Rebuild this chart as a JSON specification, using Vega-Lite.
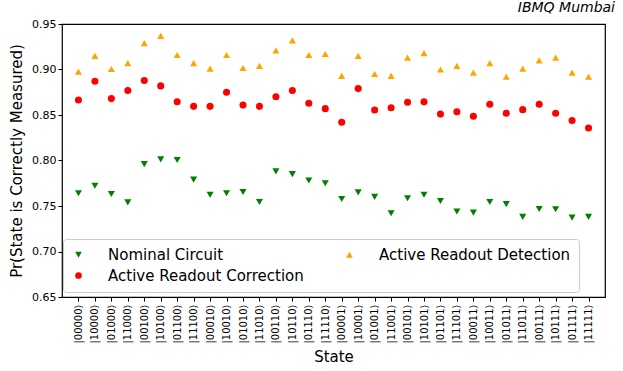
{
  "$schema": "https://vega.github.io/schema/vega-lite/v6.json",
  "autosize": {"type": "none"},
  "padding": {"left": 62, "top": 24, "right": 18, "bottom": 74},
  "width": 543,
  "height": 273,
  "background": "white",
  "config": {
    "font": "DejaVu Sans",
    "view": {"stroke": "black", "strokeWidth": 1.2},
    "axis": {"grid": false, "domain": false, "tickColor": "black", "labelColor": "black", "titleColor": "black", "labelFont": "DejaVu Sans", "titleFont": "DejaVu Sans", "titleFontWeight": "normal"}
  },
  "title": {"text": "IBMQ Mumbai", "anchor": "end", "fontStyle": "italic", "fontWeight": "normal", "fontSize": 14, "font": "DejaVu Sans", "offset": 3, "dx": 10, "color": "black"},
  "data": {
    "values": [
      {"state": "|00000⟩", "Nominal Circuit": 0.764, "Active Readout Correction": 0.8665, "Active Readout Detection": 0.8976},
      {"state": "|10000⟩", "Nominal Circuit": 0.7723, "Active Readout Correction": 0.887, "Active Readout Detection": 0.915},
      {"state": "|01000⟩", "Nominal Circuit": 0.7632, "Active Readout Correction": 0.868, "Active Readout Detection": 0.9005},
      {"state": "|11000⟩", "Nominal Circuit": 0.754, "Active Readout Correction": 0.877, "Active Readout Detection": 0.907},
      {"state": "|00100⟩", "Nominal Circuit": 0.796, "Active Readout Correction": 0.888, "Active Readout Detection": 0.929},
      {"state": "|10100⟩", "Nominal Circuit": 0.8013, "Active Readout Correction": 0.882, "Active Readout Detection": 0.937},
      {"state": "|01100⟩", "Nominal Circuit": 0.8005, "Active Readout Correction": 0.8646, "Active Readout Detection": 0.916},
      {"state": "|11100⟩", "Nominal Circuit": 0.779, "Active Readout Correction": 0.8595, "Active Readout Detection": 0.907},
      {"state": "|00010⟩", "Nominal Circuit": 0.7624, "Active Readout Correction": 0.8595, "Active Readout Detection": 0.901},
      {"state": "|10010⟩", "Nominal Circuit": 0.764, "Active Readout Correction": 0.875, "Active Readout Detection": 0.916},
      {"state": "|01010⟩", "Nominal Circuit": 0.7654, "Active Readout Correction": 0.861, "Active Readout Detection": 0.9016},
      {"state": "|11010⟩", "Nominal Circuit": 0.7544, "Active Readout Correction": 0.8595, "Active Readout Detection": 0.904},
      {"state": "|00110⟩", "Nominal Circuit": 0.788, "Active Readout Correction": 0.870, "Active Readout Detection": 0.921},
      {"state": "|10110⟩", "Nominal Circuit": 0.785, "Active Readout Correction": 0.877, "Active Readout Detection": 0.932},
      {"state": "|01110⟩", "Nominal Circuit": 0.778, "Active Readout Correction": 0.863, "Active Readout Detection": 0.916},
      {"state": "|11110⟩", "Nominal Circuit": 0.775, "Active Readout Correction": 0.857, "Active Readout Detection": 0.917},
      {"state": "|00001⟩", "Nominal Circuit": 0.7577, "Active Readout Correction": 0.842, "Active Readout Detection": 0.893},
      {"state": "|10001⟩", "Nominal Circuit": 0.765, "Active Readout Correction": 0.879, "Active Readout Detection": 0.915},
      {"state": "|01001⟩", "Nominal Circuit": 0.760, "Active Readout Correction": 0.8555, "Active Readout Detection": 0.895},
      {"state": "|11001⟩", "Nominal Circuit": 0.742, "Active Readout Correction": 0.858, "Active Readout Detection": 0.893},
      {"state": "|00101⟩", "Nominal Circuit": 0.7585, "Active Readout Correction": 0.864, "Active Readout Detection": 0.913},
      {"state": "|10101⟩", "Nominal Circuit": 0.7624, "Active Readout Correction": 0.8646, "Active Readout Detection": 0.918},
      {"state": "|01101⟩", "Nominal Circuit": 0.7555, "Active Readout Correction": 0.851, "Active Readout Detection": 0.900},
      {"state": "|11101⟩", "Nominal Circuit": 0.744, "Active Readout Correction": 0.8536, "Active Readout Detection": 0.904},
      {"state": "|00011⟩", "Nominal Circuit": 0.7427, "Active Readout Correction": 0.8486, "Active Readout Detection": 0.8965},
      {"state": "|10011⟩", "Nominal Circuit": 0.7544, "Active Readout Correction": 0.8618, "Active Readout Detection": 0.907},
      {"state": "|01011⟩", "Nominal Circuit": 0.752, "Active Readout Correction": 0.852, "Active Readout Detection": 0.892},
      {"state": "|11011⟩", "Nominal Circuit": 0.738, "Active Readout Correction": 0.8559, "Active Readout Detection": 0.901},
      {"state": "|00111⟩", "Nominal Circuit": 0.7467, "Active Readout Correction": 0.8618, "Active Readout Detection": 0.910},
      {"state": "|10111⟩", "Nominal Circuit": 0.7464, "Active Readout Correction": 0.852, "Active Readout Detection": 0.913},
      {"state": "|01111⟩", "Nominal Circuit": 0.7372, "Active Readout Correction": 0.844, "Active Readout Detection": 0.8965},
      {"state": "|11111⟩", "Nominal Circuit": 0.738, "Active Readout Correction": 0.8357, "Active Readout Detection": 0.892}
    ]
  },
  "transform": [
    {"fold": ["Nominal Circuit", "Active Readout Correction", "Active Readout Detection"], "as": ["series", "value"]}
  ],
  "mark": {"type": "point", "filled": true, "opacity": 1, "strokeWidth": 0},
  "encoding": {
    "x": {
      "field": "state", "type": "nominal", "sort": null,
      "scale": {"type": "point", "padding": 1.07},
      "axis": {"title": "State", "titleFontSize": 15, "titlePadding": 6, "labelAngle": -90, "labelFontSize": 10, "tickSize": 4, "labelPadding": 3}
    },
    "y": {
      "field": "value", "type": "quantitative",
      "scale": {"domain": [0.65, 0.95], "nice": false, "zero": false},
      "axis": {"title": "Pr(State is Correctly Measured)", "titleFontSize": 15, "titlePadding": 7, "values": [0.65, 0.70, 0.75, 0.80, 0.85, 0.90, 0.95], "format": ".2f", "labelFontSize": 11, "tickSize": 4}
    },
    "color": {
      "field": "series", "type": "nominal",
      "scale": {"domain": ["Nominal Circuit", "Active Readout Correction", "Active Readout Detection"], "range": ["#008000", "#ff0000", "#ffa500"]},
      "legend": {"title": null, "orient": "none", "legendX": 1, "legendY": 215, "columns": 2, "columnPadding": 38, "rowPadding": 5, "labelFontSize": 15, "labelOffset": 22, "labelLimit": 400, "symbolSize": 45, "padding": 8, "strokeColor": "#cccccc", "fillColor": "white", "cornerRadius": 3, "labelColor": "black"}
    },
    "shape": {
      "field": "series", "type": "nominal",
      "scale": {"domain": ["Nominal Circuit", "Active Readout Correction", "Active Readout Detection"], "range": ["triangle-down", "circle", "triangle-up"]}
    },
    "size": {"value": 50}
  }
}
